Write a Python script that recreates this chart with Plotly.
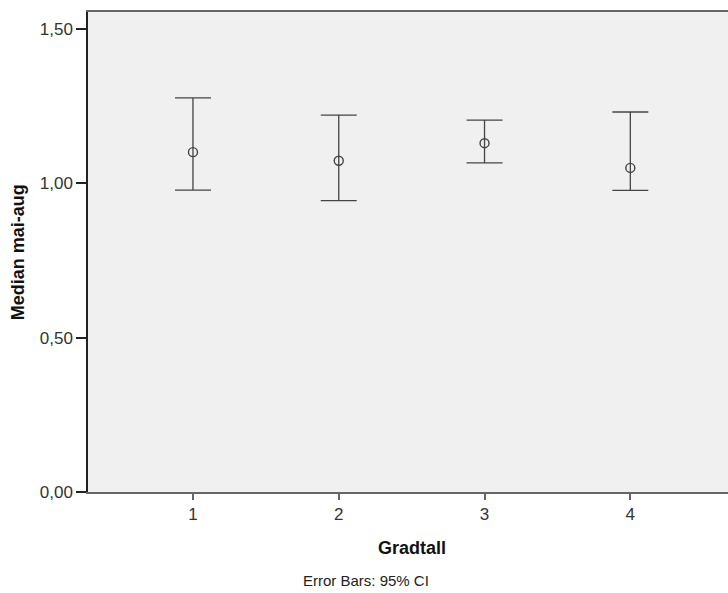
import plotly.graph_objects as go

categories = [1, 2, 3, 4]
means = [1.101, 1.073, 1.130, 1.050]
upper = [1.277, 1.221, 1.205, 1.231]
lower = [0.978, 0.944, 1.066, 0.977]
y_ticks = [0.0, 0.5, 1.0, 1.5]

err_plus = [u - m for u, m in zip(upper, means)]
err_minus = [m - l for m, l in zip(means, lower)]

fig = go.Figure()
fig.add_trace(go.Scatter(
    x=categories, y=means, mode="markers",
    marker=dict(symbol="circle-open", size=9, color="#444444", line=dict(width=1.4, color="#444444")),
    error_y=dict(type="data", symmetric=False, array=err_plus, arrayminus=err_minus,
                 color="#444444", thickness=1.3, width=18),
    showlegend=False,
))

font = "Liberation Sans, Arial, sans-serif"
fig.update_layout(
    width=728, height=593,
    margin=dict(l=88, r=0, t=12, b=101),
    paper_bgcolor="white", plot_bgcolor="#f0f0f0",
    separators=", ",
    font=dict(family=font, size=17, color="#333333"),
    xaxis=dict(range=[0.28, 4.67], tickvals=categories, ticktext=[str(c) for c in categories],
               showgrid=False, zeroline=False, showline=True, linecolor="#666666", linewidth=2,
               mirror=True, ticks="outside", ticklen=6, tickcolor="#666666", tickwidth=2,
               tickfont=dict(size=17, color="#333333")),
    yaxis=dict(range=[0, 1.555], tickvals=y_ticks, tickformat=".2f",
               showgrid=False, zeroline=False, showline=True, linecolor="#222222", linewidth=1.5,
               ticks="outside", ticklen=10, tickcolor="#222222", tickwidth=1.5,
               tickfont=dict(size=17, color="#333333")),
    annotations=[
        dict(text="<b>Gradtall</b>", xref="paper", yref="paper", x=0.506, y=-0.117,
             xanchor="center", yanchor="middle", showarrow=False,
             font=dict(size=18, color="#111111", family=font)),
        dict(text="<b>Median mai-aug</b>", xref="paper", yref="paper", x=-0.109, y=0.5,
             xanchor="center", yanchor="middle", showarrow=False, textangle=-90,
             font=dict(size=18, color="#111111", family=font)),
        dict(text="Error Bars: 95% CI", xref="paper", yref="paper", x=0.434, y=-0.185,
             xanchor="center", yanchor="middle", showarrow=False,
             font=dict(size=15, color="#222222", family=font)),
    ],
)

fig.write_html("out.html", config={"displayModeBar": False},
               post_script="document.body.style.margin='0';document.body.style.overflow='hidden';")
